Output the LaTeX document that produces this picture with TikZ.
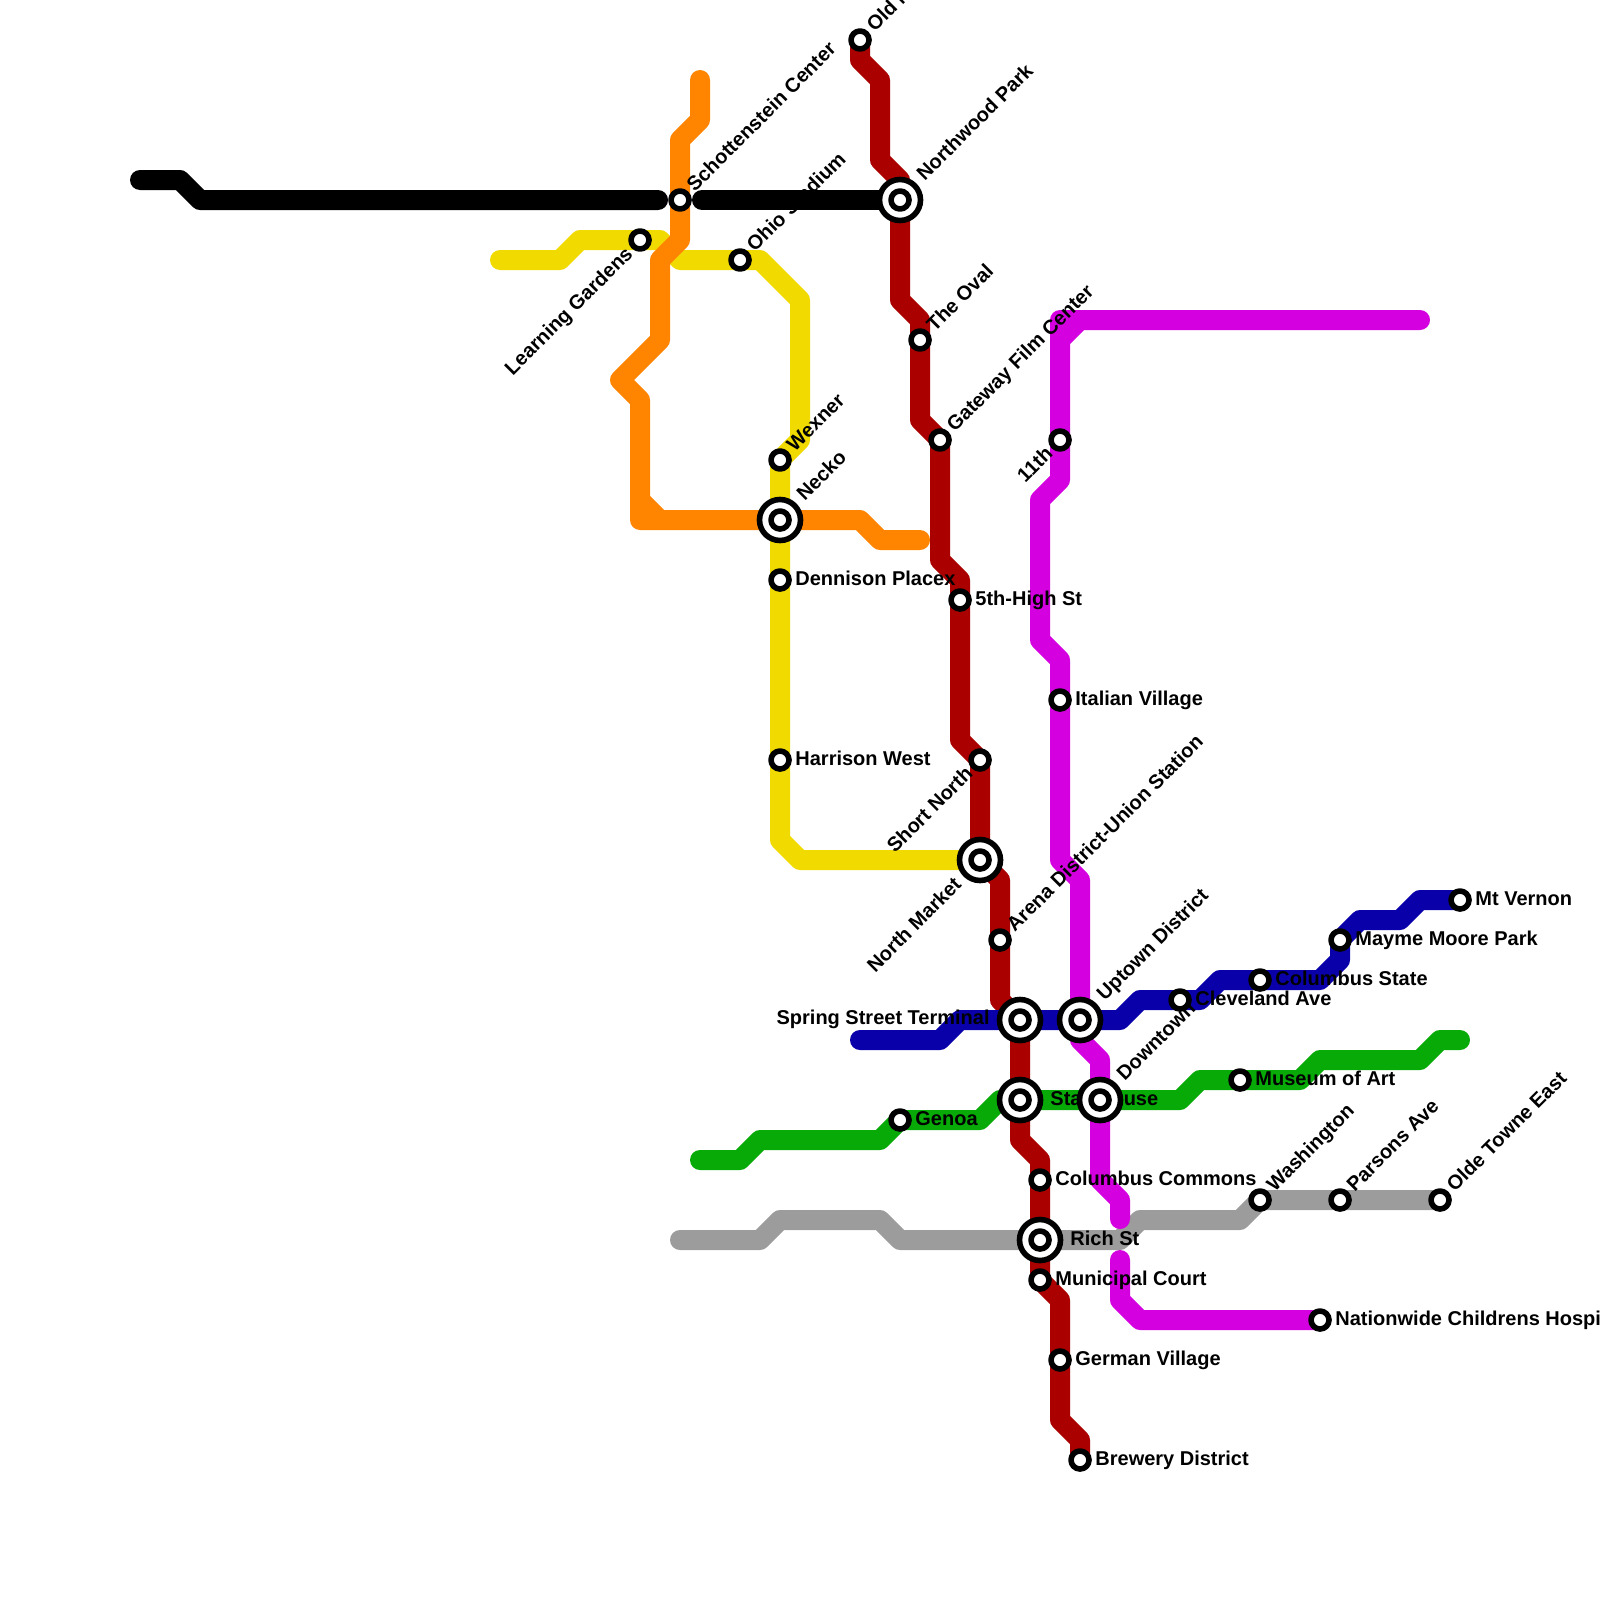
\documentclass[tikz,border=0pt]{standalone}
\usepackage{fontspec}
\setmainfont{Liberation Sans}
\definecolor{redline}{HTML}{AA0000}
\definecolor{orangeline}{HTML}{FF8400}
\definecolor{yellowline}{HTML}{F0DA00}
\definecolor{blueline}{HTML}{0A00AA}
\definecolor{greenline}{HTML}{08AA08}
\definecolor{greyline}{HTML}{9C9C9C}
\definecolor{pinkline}{HTML}{D500DF}
\begin{document}
\begin{tikzpicture}
   [x=10pt, y=-10pt, line join=round, line cap=round,
    metro/.style={line width=10pt},
    stn/.style={circle,draw=black,fill=white,line width=2.8pt,minimum size=9pt,inner sep=0pt},
    hub/.style={circle,draw=black,fill=white,line width=2.8pt,minimum size=20.5pt,inner sep=0pt},
    txt/.style={font=\bfseries\fontsize{10}{12}\selectfont,inner sep=0pt,text=black},
    elab/.style={txt,anchor=base west,xshift=7.5pt,yshift=-2.5pt},
    wlab/.style={txt,anchor=base east,xshift=-15pt,yshift=-2.2pt},
    nelab/.style={txt,rotate=45,anchor=base west,xshift=7.7pt,yshift=-2.65pt},
    swlab/.style={txt,rotate=45,anchor=base east,xshift=-7.4pt,yshift=-3.2pt}]
   \useasboundingbox (0,0) rectangle (80,80);
   \clip (0,0) rectangle (80,80);

   % lines
   \draw[metro, redline] (43,2) -- (43,3) -- (44,4) -- (44,8) -- (45,9) -- (45,15) -- (46,16) -- (46,21) -- (47,22) -- (47,28) -- (48,29) -- (48,37) -- (49,38) -- (49,43) -- (50,44) -- (50,50) -- (51,51) -- (51,57) -- (52,58) -- (52,64) -- (53,65) -- (53,71) -- (54,72) -- (54,73);
   \draw[metro, yellowline] (25,13) -- (28,13) -- (29,12) -- (33,12) -- (34,13) -- (38,13) -- (40,15) -- (40,22) -- (39,23) -- (39,42) -- (40,43) -- (49,43);
   \draw[metro, orangeline] (35,4) -- (35,6) -- (34,7) -- (34,12) -- (33,13) -- (33,17) -- (31,19) -- (32,20) -- (32,26) -- (43,26) -- (44,27) -- (46,27);
   \draw[metro, orangeline] (32,25) -- (33,26);
   \draw[metro, greyline] (34,62) -- (38,62) -- (39,61) -- (44,61) -- (45,62) -- (56,62) -- (57,61) -- (62,61) -- (63,60) -- (72,60);
   \draw[metro, pinkline] (71,16) -- (54,16) -- (53,17) -- (53,24) -- (52,25) -- (52,32) -- (53,33) -- (53,43) -- (54,44) -- (54,52) -- (55,53) -- (55,59) -- (56,60) -- (56,60.95);
   \draw[metro, pinkline] (54,16) -- (53,16) -- (53,17);
   \draw[metro, pinkline] (56,63) -- (56,65) -- (57,66) -- (66,66);
   \draw[metro, blueline] (43,52) -- (47,52) -- (48,51) -- (56,51) -- (57,50) -- (60,50) -- (61,49) -- (66,49) -- (67,48) -- (67,47) -- (68,46) -- (70,46) -- (71,45) -- (73,45);
   \draw[metro, greenline] (35,58) -- (37,58) -- (38,57) -- (44,57) -- (45,56) -- (49,56) -- (50,55) -- (59,55) -- (60,54) -- (65,54) -- (66,53) -- (71,53) -- (72,52) -- (73,52);

   % station positions
   \coordinate (oldn) at (43,2);
   \coordinate (schot) at (34,10);
   \coordinate (north) at (45,10);
   \coordinate (learn) at (32,12);
   \coordinate (ohio) at (37,13);
   \coordinate (oval) at (46,17);
   \coordinate (gate) at (47,22);
   \coordinate (eleven) at (53,22);
   \coordinate (wex) at (39,23);
   \coordinate (neck) at (39,26);
   \coordinate (denn) at (39,29);
   \coordinate (fifth) at (48,30);
   \coordinate (ital) at (53,35);
   \coordinate (harr) at (39,38);
   \coordinate (shor) at (49,38);
   \coordinate (mark) at (49,43);
   \coordinate (aren) at (50,47);
   \coordinate (vern) at (73,45);
   \coordinate (mayme) at (67,47);
   \coordinate (colst) at (63,49);
   \coordinate (clev) at (59,50);
   \coordinate (spri) at (51,51);
   \coordinate (upto) at (54,51);
   \coordinate (muse) at (62,54);
   \coordinate (stat) at (51,55);
   \coordinate (down) at (55,55);
   \coordinate (geno) at (45,56);
   \coordinate (comm) at (52,59);
   \coordinate (wash) at (63,60);
   \coordinate (pars) at (67,60);
   \coordinate (olde) at (72,60);
   \coordinate (rich) at (52,62);
   \coordinate (muni) at (52,64);
   \coordinate (natw) at (66,66);
   \coordinate (germ) at (53,68);
   \coordinate (brew) at (54,73);

   % labels
   \node[nelab] (oldn l) at (oldn) {Old North};
   \node[nelab] (schot l) at (schot) {Schottenstein Center};
   \node[nelab, xshift=7.4pt, yshift=.3pt] (north l) at (north) {Northwood Park};
   \node[swlab] (learn l) at (learn) {Learning Gardens};
   \node[nelab] (ohio l) at (ohio) {Ohio Stadium};
   \node[nelab] (oval l) at (oval) {The Oval};
   \node[nelab] (gate l) at (gate) {Gateway Film Center};
   \node[swlab] (eleven l) at (eleven) {11th};
   \node[nelab] (wex l) at (wex) {Wexner};
   \node[nelab, xshift=7.4pt, yshift=.3pt] (neck l) at (neck) {Necko};
   \node[elab] (denn l) at (denn) {Dennison Placex};
   \node[elab] (fifth l) at (fifth) {5th-High St};
   \node[elab] (ital l) at (ital) {Italian Village};
   \node[elab] (harr l) at (harr) {Harrison West};
   \node[swlab] (shor l) at (shor) {Short North};
   \node[swlab, xshift=-7.8pt, yshift=.2pt] (mark l) at (mark) {North Market};
   \node[nelab] (aren l) at (aren) {Arena District-Union Station};
   \node[elab] (vern l) at (vern) {Mt Vernon};
   \node[elab] (mayme l) at (mayme) {Mayme Moore Park};
   \node[elab] (colst l) at (colst) {Columbus State};
   \node[elab] (clev l) at (clev) {Cleveland Ave};
   \node[wlab] (spri l) at (spri) {Spring Street Terminal};
   \node[nelab, xshift=7.4pt, yshift=.3pt] (upto l) at (upto) {Uptown District};
   \node[elab] (muse l) at (muse) {Museum of Art};
   \node[elab, xshift=7.5pt] (stat l) at (stat) {Statehouse};
   \node[nelab, xshift=7.4pt, yshift=.3pt] (down l) at (down) {Downtown};
   \node[elab] (geno l) at (geno) {Genoa};
   \node[elab] (comm l) at (comm) {Columbus Commons};
   \node[nelab] (wash l) at (wash) {Washington};
   \node[nelab] (pars l) at (pars) {Parsons Ave};
   \node[nelab] (olde l) at (olde) {Olde Towne East};
   \node[elab, xshift=7.5pt] (rich l) at (rich) {Rich St};
   \node[elab] (muni l) at (muni) {Municipal Court};
   \node[elab] (natw l) at (natw) {Nationwide Childrens Hospital};
   \node[elab] (germ l) at (germ) {German Village};
   \node[elab] (brew l) at (brew) {Brewery District};

   % black runs over the labels
   \draw[metro, black] (7,9) -- (9,9) -- (10,10) -- (32.9,10);
   \draw[metro, black] (35.1,10) -- (45,10);

   \node[stn] (s oldn) at (oldn) {};
   \node[stn] (s schot) at (schot) {};
   \node[hub] (h north) at (north) {};
   \node[stn] (s north) at (north) {};
   \node[stn] (s learn) at (learn) {};
   \node[stn] (s ohio) at (ohio) {};
   \node[stn] (s oval) at (oval) {};
   \node[stn] (s gate) at (gate) {};
   \node[stn] (s eleven) at (eleven) {};
   \node[stn] (s wex) at (wex) {};
   \node[hub] (h neck) at (neck) {};
   \node[stn] (s neck) at (neck) {};
   \node[stn] (s denn) at (denn) {};
   \node[stn] (s fifth) at (fifth) {};
   \node[stn] (s ital) at (ital) {};
   \node[stn] (s harr) at (harr) {};
   \node[stn] (s shor) at (shor) {};
   \node[hub] (h mark) at (mark) {};
   \node[stn] (s mark) at (mark) {};
   \node[stn] (s aren) at (aren) {};
   \node[stn] (s vern) at (vern) {};
   \node[stn] (s mayme) at (mayme) {};
   \node[stn] (s colst) at (colst) {};
   \node[stn] (s clev) at (clev) {};
   \node[hub] (h spri) at (spri) {};
   \node[stn] (s spri) at (spri) {};
   \node[hub] (h upto) at (upto) {};
   \node[stn] (s upto) at (upto) {};
   \node[stn] (s muse) at (muse) {};
   \node[hub] (h stat) at (stat) {};
   \node[stn] (s stat) at (stat) {};
   \node[hub] (h down) at (down) {};
   \node[stn] (s down) at (down) {};
   \node[stn] (s geno) at (geno) {};
   \node[stn] (s comm) at (comm) {};
   \node[stn] (s wash) at (wash) {};
   \node[stn] (s pars) at (pars) {};
   \node[stn] (s olde) at (olde) {};
   \node[hub] (h rich) at (rich) {};
   \node[stn] (s rich) at (rich) {};
   \node[stn] (s muni) at (muni) {};
   \node[stn] (s natw) at (natw) {};
   \node[stn] (s germ) at (germ) {};
   \node[stn] (s brew) at (brew) {};
\end{tikzpicture}
\end{document}
